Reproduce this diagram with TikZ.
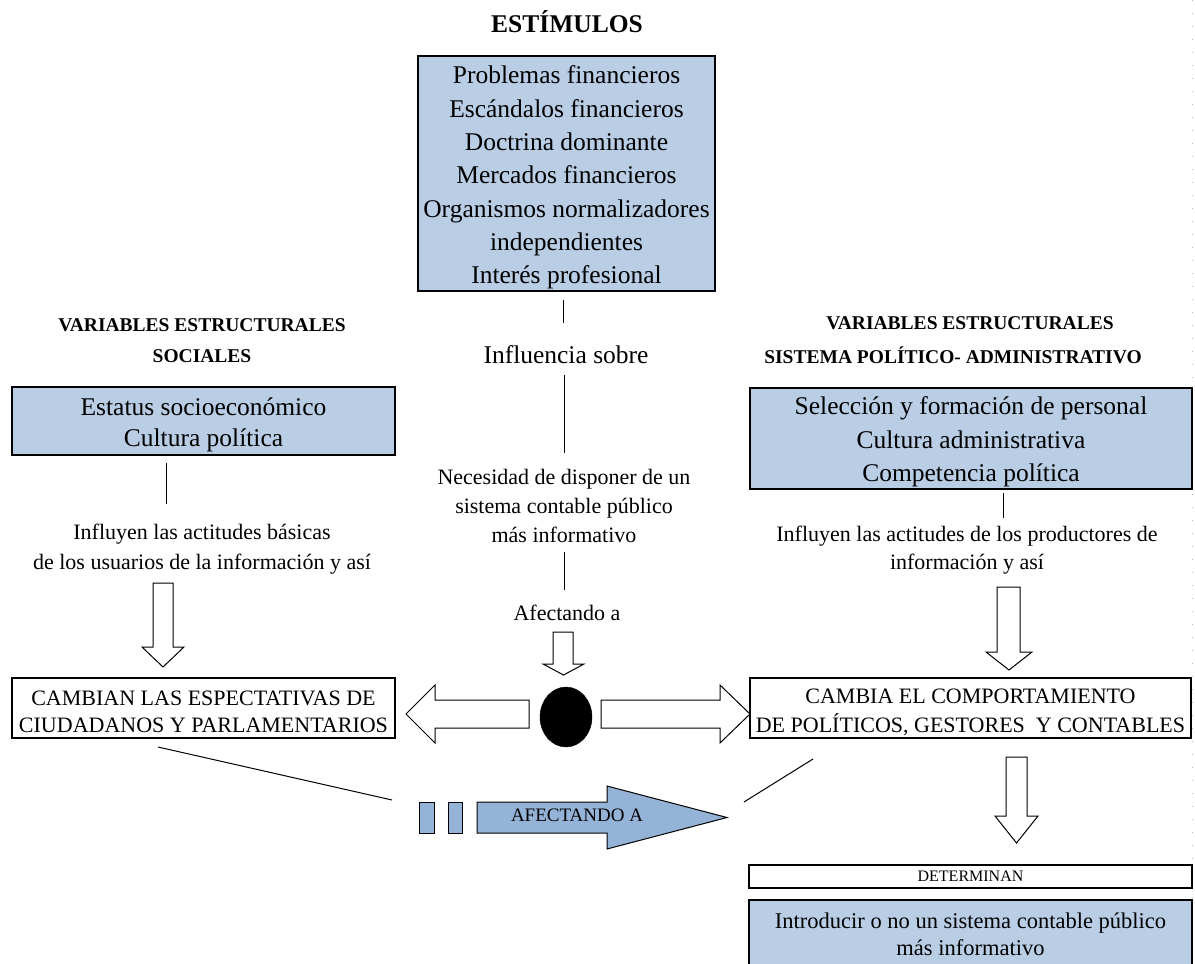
\documentclass[tikz,border=0pt]{standalone}
\usepackage{fontspec}
\setmainfont{Liberation Serif}
\usetikzlibrary{shapes.geometric}
\definecolor{boxblue}{RGB}{185,205,229}
\definecolor{arrowblue}{RGB}{149,179,215}
\newcommand\fsz[2]{\fontsize{#1}{#2}\selectfont}
\newcommand\tstrut[1]{\rule{0pt}{#1pt}}
\tikzset{
  bluebox/.style={draw, line width=2, fill=boxblue, inner sep=0pt, align=center},
  whitebox/.style={draw, line width=2, fill=white, inner sep=0pt, align=center},
  conn/.style={line width=1},
  blockarrow/.style={draw, line width=1, fill=white, line join=miter},
  label/.style={inner sep=0pt, align=center},
}
\begin{document}
\begin{tikzpicture}[x=1pt,y=-1pt]
\useasboundingbox (0,0) rectangle (1195,964);
\clip (0,0) rectangle (1195,964);
% faint right-edge dotted line
\draw[black!25, line width=0.8, dash pattern=on 1pt off 12pt] (1192,0) -- (1192,964);

% title
\node[label, font=\fsz{25.5}{30}\bfseries] (title) at (567,22) {ESTÍMULOS};

% stimulus box
\node[bluebox, minimum width=297, minimum height=235, font=\fsz{25.5}{33.3}] (stim) at (566.5,173.5)
 {\tstrut{26}Problemas financieros\\Escándalos financieros\\Doctrina dominante\\Mercados financieros\\Organismos normalizadores\\independientes\\Interés profesional};

% central chain
\node[label, font=\fsz{25.5}{30}] (infl) at (566,355) {Influencia sobre};
\node[label, font=\fsz{22}{29}] (nec) at (564,506) {Necesidad de disponer de un\\sistema contable público\\más informativo};
\node[label, font=\fsz{22}{29}] (afec) at (567,613) {Afectando a};
\coordinate (c1a) at (563,300); \coordinate (c1b) at (563,323);
\coordinate (c2a) at (564,375); \coordinate (c2b) at (564,453);
\coordinate (c3a) at (564,552); \coordinate (c3b) at (564,590);
\draw[conn] (c1a) -- (c1b);
\draw[conn] (c2a) -- (c2b);
\draw[conn] (c3a) -- (c3b);

% left headings and box
\node[label, font=\fsz{19.5}{31}\bfseries] (lhead) at (202,341) {VARIABLES ESTRUCTURALES\\SOCIALES};
\node[bluebox, minimum width=383, minimum height=68, font=\fsz{25.5}{31}] (lbox) at (203.5,421)
 {\tstrut{26}Estatus socioeconómico\\Cultura política};
\coordinate (l1a) at (166,463); \coordinate (l1b) at (166,504);
\draw[conn] (l1a) -- (l1b);
\node[label, font=\fsz{22}{30}] (lcap) at (202,549) {Influyen las actitudes básicas\\de los usuarios de la información y así};

% right headings and box
\node[label, font=\fsz{19.5}{31}\bfseries] (rhead1) at (970,323) {VARIABLES ESTRUCTURALES};
\node[label, font=\fsz{19.5}{31}\bfseries] (rhead2) at (953,355) {SISTEMA POLÍTICO- ADMINISTRATIVO};
\node[bluebox, minimum width=442, minimum height=101, font=\fsz{25.5}{33.5}] (rbox) at (971,438.5)
 {\tstrut{25}Selección y formación de personal\\Cultura administrativa\\Competencia política};
\coordinate (r1a) at (1003,493); \coordinate (r1b) at (1003,518);
\draw[conn] (r1a) -- (r1b);
\node[label, font=\fsz{22}{28}] (rcap) at (967,550) {Influyen las actitudes de los productores de\\información y así};

% block arrows
\draw[blockarrow] (153,583) -- (173,583) -- (173,647) -- (184,647) -- (163,667) -- (142,647) -- (153,647) -- cycle;
\draw[blockarrow] (553,632) -- (573,632) -- (573,664) -- (584,664) -- (563.5,675) -- (543,664) -- (553,664) -- cycle;
\draw[blockarrow] (997,587) -- (1020,587) -- (1020,652) -- (1032,652) -- (1009,670) -- (986,652) -- (997,652) -- cycle;
\draw[blockarrow] (1006,757) -- (1027,757) -- (1027,816) -- (1038,816) -- (1016.5,843) -- (995,816) -- (1006,816) -- cycle;
\draw[blockarrow] (529,700) -- (435,700) -- (435,685) -- (406,714) -- (435,743) -- (435,728) -- (529,728) -- cycle;
\draw[blockarrow] (601,700) -- (720,700) -- (720,685) -- (750,714) -- (720,743) -- (720,728) -- (601,728) -- cycle;

% central dot
\node[draw, fill=black, ellipse, minimum width=52, minimum height=60, inner sep=0pt] (dot) at (566,717) {};

% caps boxes
\node[whitebox, minimum width=383, minimum height=60, font=\fsz{22}{27}] (lcaps) at (203.5,708)
 {\tstrut{22.5}CAMBIAN LAS ESPECTATIVAS DE\\CIUDADANOS Y PARLAMENTARIOS};
\node[whitebox, minimum width=441, minimum height=60, font=\fsz{22}{29}] (rcaps) at (970.5,708)
 {\tstrut{22.5}CAMBIA EL COMPORTAMIENTO\\DE POLÍTICOS, GESTORES\ \ Y CONTABLES};

% diagonal lines
\coordinate (dl1) at (158,747); \coordinate (dl2) at (392,800);
\coordinate (dr1) at (813,759); \coordinate (dr2) at (744,802);
\draw[conn] (dl1) -- (dl2);
\draw[conn] (dr1) -- (dr2);

% bottom arrow with squares
\draw[line width=1, fill=arrowblue] (419,802) rectangle (434,833);
\draw[line width=1, fill=arrowblue] (448,802) rectangle (462,833);
\draw[line width=1, fill=arrowblue, line join=miter] (477,802) -- (607,802) -- (607,786) -- (727,817.5) -- (607,849) -- (607,833) -- (477,833) -- cycle;
\node[label, font=\fsz{19}{22}] (afecA) at (577,815) {AFECTANDO A};

% determinan and final box
\node[whitebox, minimum width=443, minimum height=23, font=\fsz{16}{18}] (det) at (970.5,876.5) {DETERMINAN};
\node[bluebox, minimum width=443, minimum height=68, font=\fsz{22.5}{27}] (final) at (970.5,934)
 {Introducir o no un sistema contable público\\más informativo};
\end{tikzpicture}
\end{document}
